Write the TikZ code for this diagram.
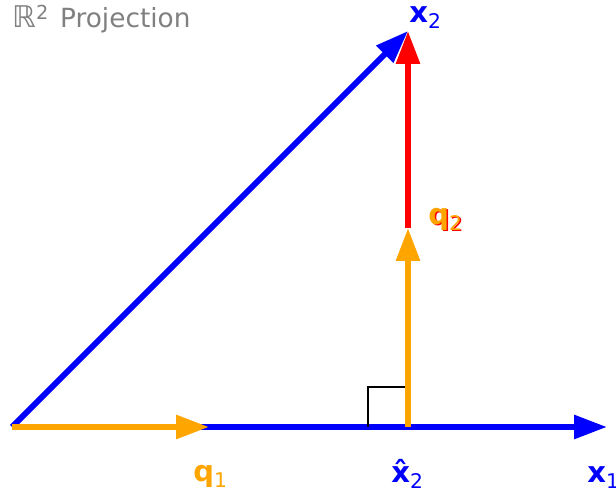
\documentclass[tikz,border=0pt]{standalone}
\usepackage{fontspec}
\setmainfont{DejaVu Sans}
\usetikzlibrary{arrows.meta}
\definecolor{mplorange}{RGB}{255,165,0}
\newcommand{\vsub}[2]{\textbf{#1}\raisebox{-3pt}{\fontsize{11.5}{11.5}\selectfont #2}}

\begin{document}
\begin{tikzpicture}[x=0.02cm,y=0.02cm,
  vec/.style={line width=3.4pt,-{Triangle[length=0.66cm,width=0.46cm]}},
  lab/.style={anchor=base west,inner sep=0pt,font=\fontsize{16.5}{16.5}\selectfont},
  rightangle/.style={draw=black,line width=0.8pt}]

\useasboundingbox (0,0) rectangle (616,493);

\coordinate (O)  at (12,66);
\coordinate (X1) at (607,66);
\coordinate (X2) at (408,462);
\coordinate (H)  at (408,66);
\coordinate (Q1) at (209,66);
\coordinate (Q2) at (408,265);

\draw[vec,blue] (O) -- (X1);
\draw[vec,blue] (O) -- (X2);
\draw[vec,mplorange] (O) -- (Q1);
\draw[rightangle] (368,66) |- (H |- 0,106);
\draw[vec,red] (Q2) -- (X2);
\draw[vec,mplorange] (H) -- (Q2);

\node[lab,gray,font=\fontsize{15}{15}\selectfont] (title) at (12,465)
  {{\fontsize{17}{17}\selectfont ℝ}\raisebox{5pt}{\fontsize{11}{11}\selectfont 2}\hspace{0.45em}Projection};
\node[lab,blue] (lx2) at (409,470) {\vsub{x}{2}};
\node[lab,blue] (lx1) at (587,10) {\vsub{x}{1}};
\node[lab,blue] (lhat) at (391,10) {\vsub{\^{x}}{2}};
\node[lab,mplorange] (lq1) at (193,11) {\vsub{q}{1}};
\node[lab,red] (lq2r) at (429.5,267) {\vsub{q}{2}};
\node[lab,mplorange] (lq2) at (428,268) {\vsub{q}{2}};
\end{tikzpicture}
\end{document}
